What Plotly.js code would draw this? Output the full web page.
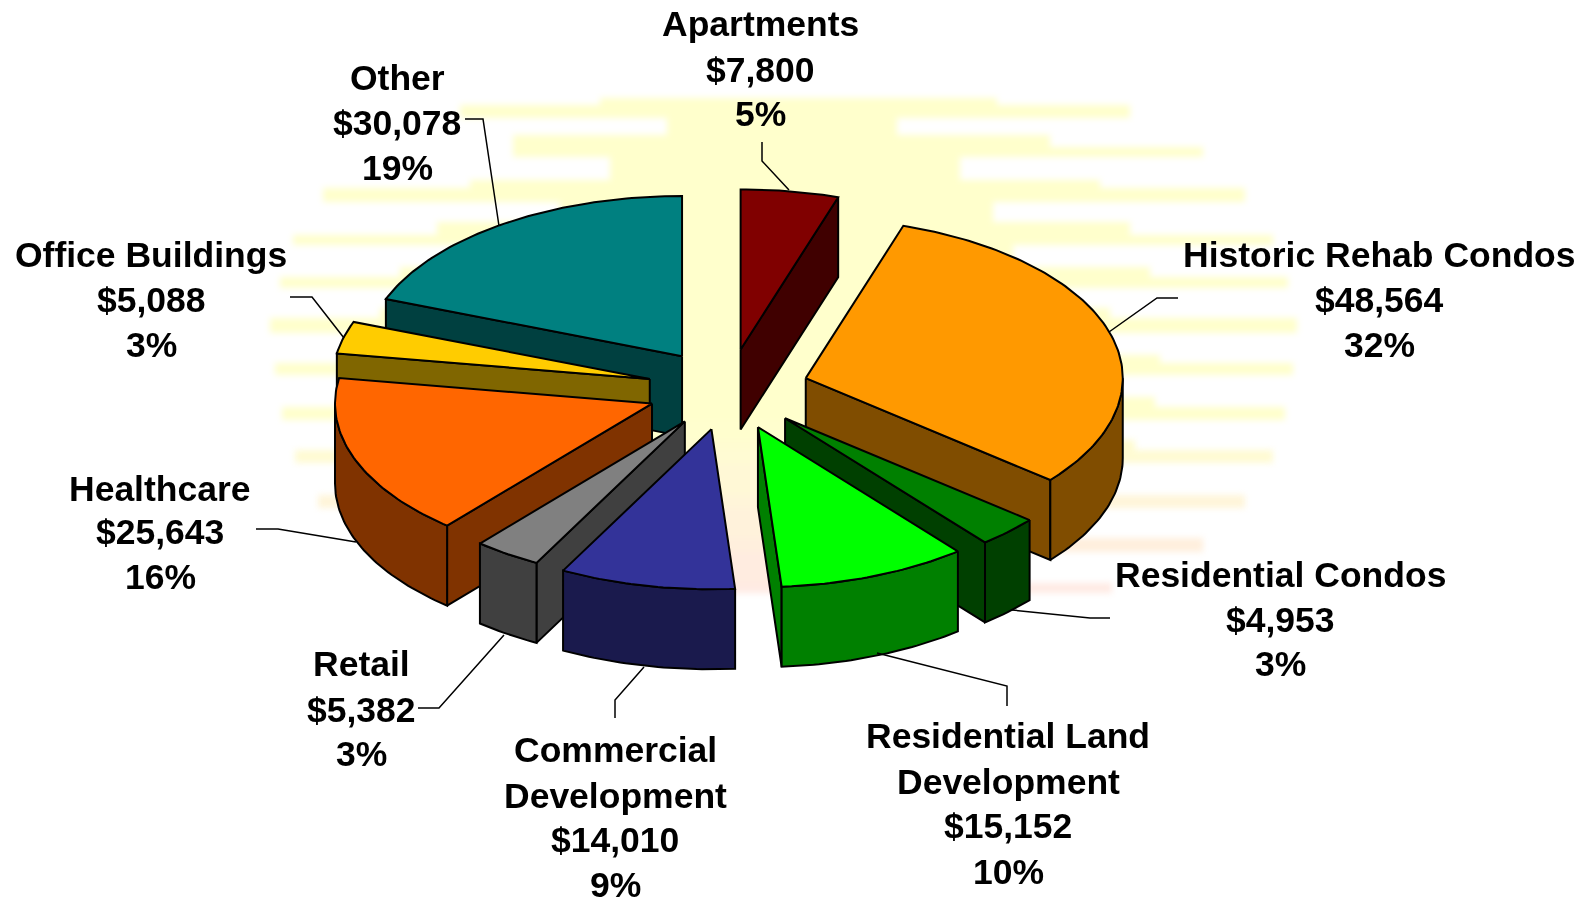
<!DOCTYPE html>
<html>
<head>
<meta charset="utf-8">
<script src="https://cdn.plot.ly/plotly-3.1.0.min.js"></script>
<style>
html,body{margin:0;padding:0;background:#fff;}
#chart{width:1583px;height:900px;}
#chart .layer-subplot .shapelayer,#chart .layer-below .shapelayer{filter:blur(3px);}
</style>
</head>
<body>
<div id="chart"></div>
<script>
// ---------- data (clockwise from 12 o'clock) ----------
const categories = ["Apartments","Historic Rehab Condos","Residential Condos","Residential Land Development","Commercial Development","Retail","Healthcare","Office Buildings","Other"];
const values = [7800,48564,4953,15152,14010,5382,25643,5088,30078];
const percentLabels = ["5%","32%","3%","10%","9%","3%","16%","3%","19%"];
const topColors = ["#800000","#FF9900","#008000","#00FF00","#333399","#808080","#FF6600","#FFCC00","#008080"];
const sideColors = ["#400000","#804D00","#004000","#008000","#1A1A4D","#404040","#803300","#806600","#004040"];
const labelLines = [["Apartments"],["Historic Rehab Condos"],["Residential Condos"],["Residential Land","Development"],["Commercial","Development"],["Retail"],["Healthcare"],["Office Buildings"],["Other"]];
const labelX = [760,1379,1280,1008,615,361,160,151,397];
const labelLineY = [
  [24,70,114],[255,300,345],[575,620,664],[736,782,826,872],
  [750,796,840,885],[664,710,754],[489,532,577],[255,300,345],[78,123,168]
];
const explodeBy = [81,81,81,81,81,77,81,81,81];
const leaders = [
  [[762,142],[762,161],[789,190]],
  [[1178,298],[1157,298],[1109,332]],
  [[1110,618],[1090,618],[1012,610]],
  [[1007,706],[1007,686],[877,653]],
  [[615,718],[615,700],[644,667]],
  [[418,708],[439,708],[504,635]],
  [[256,529],[278,529],[356,542]],
  [[290,297],[312,297],[344,338]],
  [[465,119],[483,119],[499,226]]
];
const drawOrder = [8,7,6,5,4,0,1,2,3];

// ---------- 3D projection settings ----------
const cx=728, cy=389.5, rx=317, squash=0.505, depth=80;

// ---------- soft sun-glow backdrop: y0,y1,xLeft,xRight ----------
const glow = [
 [98,105,600,997],[105,118,460,1130],[118,135,667,897],[135,147,513,1050],[147,157,513,1203],
 [157,180,610,960],[180,188,470,1100],[188,202,323,1245],[202,222,560,993],[222,235,437,1130],
 [235,245,293,1273],[245,267,600,1013],[267,277,400,1150],[277,288,280,1288],[288,308,600,1040],
 [308,318,380,1110],[318,333,270,1297],[333,355,500,1090],[355,363,340,1160],[363,375,275,1293],
 [375,397,500,1090],[397,407,350,1155],[407,420,282,1285],[420,440,500,1085],[440,450,350,1135],
 [450,463,295,1273],[463,495,500,1080],[495,508,318,1245],[508,538,500,1040],[538,552,370,1203],
 [552,583,600,1000],[583,593,600,1112]
];
const glowStops=[[0,[255,255,204]],[420,[255,255,204]],[463,[255,250,212]],[508,[255,244,218]],[552,[255,238,222]],[593,[255,234,228]]];
function glowColor(y){
  for(let i=1;i<glowStops.length;i++){
    if(y<=glowStops[i][0]){
      const a=glowStops[i-1],b=glowStops[i],t=(y-a[0])/(b[0]-a[0]);
      const c=a[1].map((v,k)=>Math.round(v+(b[1][k]-v)*t));
      return `rgb(${c[0]},${c[1]},${c[2]})`;
    }
  }
  return "rgb(255,234,228)";
}

// ---------- geometry from the values ----------
const total=values.reduce((a,b)=>a+b,0);
let run=0;
const angles=values.map(v=>{const s=run;run+=v/total*360;return [s,run];});
const rad=d=>d*Math.PI/180;
function sliceApex(i){
  const m=rad((angles[i][0]+angles[i][1])/2);
  return [cx+explodeBy[i]*Math.sin(m),cy-explodeBy[i]*0.5*Math.cos(m)];
}
function rim(ap,a){return [ap[0]+rx*Math.sin(rad(a)),ap[1]-rx*squash*Math.cos(rad(a))];}
function face(pts,color,name){
  const c=pts.concat([pts[0]]);
  return {type:"scatter",mode:"lines",x:c.map(p=>p[0]),y:c.map(p=>p[1]),fill:"toself",fillcolor:color,
    line:{color:"#000",width:2,shape:"linear"},hoverinfo:"text",text:name,showlegend:false,name:name};
}
const down=p=>[p[0],p[1]+depth];
const traces=[];
drawOrder.forEach(i=>{
  const ap=sliceApex(i),[a0,a1]=angles[i],name=categories[i];
  // radial walls that face the viewer
  if(Math.sin(rad(a1))>0.001){const e=rim(ap,a1);traces.push(face([ap,e,down(e),down(ap)],sideColors[i],name));}
  if(Math.sin(rad(a0))<-0.001){const e=rim(ap,a0);traces.push(face([ap,e,down(e),down(ap)],sideColors[i],name));}
  // outer wall
  const w0=Math.max(a0,90),w1=Math.min(a1,270);
  if(w1>w0){
    const arc=[];
    for(let a=w0;a<w1;a+=1)arc.push(rim(ap,a));
    arc.push(rim(ap,w1));
    traces.push(face(arc.concat(arc.slice().reverse().map(down)),sideColors[i],name));
  }
  // top
  const top=[ap];
  for(let a=a0;a<a1;a+=1)top.push(rim(ap,a));
  top.push(rim(ap,a1));
  traces.push(face(top,topColors[i],name));
});

const shapes=glow.map(g=>({type:"rect",layer:"below",xref:"x",yref:"y",x0:g[2],x1:g[3],y0:g[0],y1:g[1],
  fillcolor:glowColor((g[0]+g[1])/2),line:{width:0}}));
leaders.forEach(l=>shapes.push({type:"path",layer:"above",xref:"x",yref:"y",
  path:"M"+l.map(p=>p[0]+","+p[1]).join(" L"),line:{color:"#000",width:1.5}}));

const annotations=[];
categories.forEach((c,i)=>{
  const lines=labelLines[i].concat(["$"+values[i].toLocaleString("en-US"),percentLabels[i]]);
  lines.forEach((t,k)=>annotations.push({
    xref:"x",yref:"y",x:labelX[i],y:labelLineY[i][k],xanchor:"center",yanchor:"middle",showarrow:false,align:"center",
    text:t,font:{family:"Liberation Sans, Arial, sans-serif",size:35.5,color:"#000",weight:700}
  }));
});

Plotly.newPlot("chart",traces,{
  width:1583,height:900,autosize:false,margin:{l:0,r:0,t:0,b:0},
  paper_bgcolor:"#fff",plot_bgcolor:"#fff",showlegend:false,
  xaxis:{visible:false,range:[0,1583],fixedrange:true},
  yaxis:{visible:false,range:[900,0],fixedrange:true},
  shapes:shapes,annotations:annotations
},{displayModeBar:false,staticPlot:true});
</script>
</body>
</html>
